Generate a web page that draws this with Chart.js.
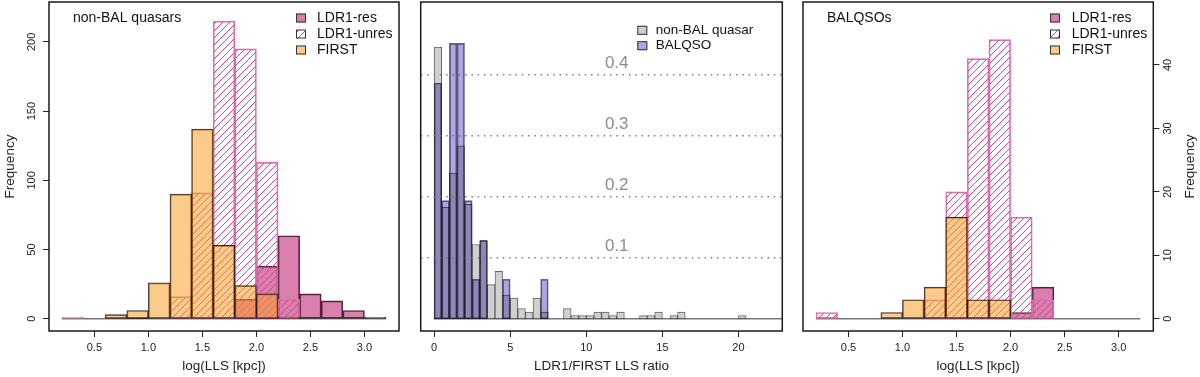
<!DOCTYPE html>
<html>
<head>
<meta charset="utf-8">
<title>LLS histograms</title>
<script src="https://cdn.jsdelivr.net/npm/chart.js"></script>
<style>
  body { margin: 0; background: #fff; }
  .panel { position: absolute; top: 0; }
</style>
</head>
<body>
<canvas id="nonBalChart" class="panel" width="410" height="377" style="left:0px"></canvas>
<canvas id="ratioChart" class="panel" width="384" height="377" style="left:410px"></canvas>
<canvas id="balChart" class="panel" width="406" height="377" style="left:794px"></canvas>
<script>
// log(LLS [kpc]) histogram breaks (left and right panels)
const llsBreaks = [0.2, 0.4, 0.6, 0.8, 1.0, 1.2, 1.4, 1.6, 1.8, 2.0, 2.2, 2.4, 2.6, 2.8, 3.0, 3.2];
const llsTicks = [0.5, 1.0, 1.5, 2.0, 2.5, 3.0];
const llsTickLabels = ['0.5', '1.0', '1.5', '2.0', '2.5', '3.0'];

// non-BAL quasars, counts per bin
const nonBalRes   = [0, 0, 0, 1, 0, 0, 0, 0, 14, 38, 60, 18, 13, 6, 1];
const nonBalUnres = [1, 0, 0, 0, 0, 16, 91, 215, 195, 113, 14, 0, 0, 0, 0];
const nonBalFirst = [0, 0, 3, 6, 26, 90, 137, 53, 24, 18, 1, 0, 0, 0, 0];
const nonBalFreqTicks = [0, 50, 100, 150, 200];

// BALQSOs, counts per bin
const balRes   = [0, 0, 0, 0, 0, 0, 0, 0, 0, 1, 5, 0, 0, 0, 0];
const balUnres = [1, 0, 0, 0, 0, 3, 20, 41, 44, 16, 3, 0, 0, 0, 0];
const balFirst = [0, 0, 0, 1, 3, 5, 16, 3, 3, 0, 0, 0, 0, 0, 0];
const balFreqTicks = [0, 10, 20, 30, 40];

// LDR1/FIRST LLS ratio, densities per 0.5-wide bin
const ratioBreaks = [0, 0.5, 1, 1.5, 2, 2.5, 3, 3.5, 4, 4.5, 5, 5.5, 6, 6.5, 7, 7.5, 8, 8.5, 9, 9.5, 10,
                     10.5, 11, 11.5, 12, 12.5, 13, 13.5, 14, 14.5, 15, 15.5, 16, 16.5, 17, 17.5, 18, 18.5,
                     19, 19.5, 20, 20.5];
const nonBalRatio = [0.446, 0.183, 0.239, 0.284, 0.188, 0.122, 0.128, 0.056, 0.078, 0.039, 0.034, 0.017,
                     0.011, 0.034, 0.011, 0, 0, 0.017, 0.0055, 0.0055, 0.0055, 0.011, 0.011, 0.0055, 0.011,
                     0, 0, 0.0055, 0.0055, 0.011, 0, 0.0055, 0.011, 0, 0, 0, 0, 0, 0, 0, 0.0055];
const balRatio    = [0.387, 0.194, 0.452, 0.452, 0.194, 0.065, 0.129, 0, 0, 0.065, 0, 0, 0, 0, 0.065,
                     0, 0, 0, 0, 0, 0, 0, 0, 0, 0, 0, 0, 0, 0, 0, 0, 0, 0, 0, 0, 0, 0, 0, 0, 0, 0];
const ratioTicks = [0, 5, 10, 15, 20];
const ratioTickLabels = ['0', '5', '10', '15', '20'];
const ratioLevels = [0.1, 0.2, 0.3, 0.4];
const ratioLevelLabels = ['0.1', '0.2', '0.3', '0.4'];
const ratioLevelLabelX = 12;

// axis limits (R style: data range + 4%)
const llsRange = [0.08, 3.32];
const ratioRange = [-0.88, 22.88];
const nonBalFreqRange = [-8.8, 228.8];
const balFreqRange = [-1.92, 49.92];
const ratioDensityRange = [-0.02, 0.52];

const FONT = '"Liberation Sans", Arial, Helvetica, sans-serif';
Chart.defaults.font.family = FONT;
Chart.defaults.color = '#222';
Chart.defaults.animation = false;

// colours
const resFill = 'rgba(180, 10, 100, 0.52)';
const firstFill = 'rgba(251, 160, 40, 0.55)';
const darkEdge = 'rgba(20, 12, 12, 0.85)';
const unresLine = 'rgb(214, 64, 148)';
const unresEdge = 'rgb(222, 110, 172)';

// diagonal hatching like R's density lines
function hatch(color) {
    const c = document.createElement('canvas');
    c.width = 7;
    c.height = 7;
    const g = c.getContext('2d');
    g.strokeStyle = color;
    g.lineWidth = 1;
    g.beginPath();
    g.moveTo(0, 7); g.lineTo(7, 0);
    g.moveTo(-1, 1); g.lineTo(1, -1);
    g.moveTo(6, 8); g.lineTo(8, 6);
    g.stroke();
    return g.createPattern(c, 'repeat');
}
const unresFill = hatch(unresLine);

// bars sit at the middle of each bin
function histData(breaks, values) {
    return values.map((y, i) => ({ x: (breaks[i] + breaks[i + 1]) / 2, y: y }));
}

function barSet(label, breaks, values, fill, edge, order, extra) {
    return Object.assign({
        type: 'bar',
        label: label,
        data: histData(breaks, values),
        backgroundColor: fill,
        borderColor: edge,
        borderWidth: 1,
        borderSkipped: false,
        barPercentage: 1,
        categoryPercentage: 1,
        grouped: false,
        order: order,
        legend: true
    }, extra || {});
}

function baseline(from, to) {
    return {
        type: 'line',
        data: [{ x: from, y: 0 }, { x: to, y: 0 }],
        borderColor: '#333',
        borderWidth: 1,
        pointRadius: 0,
        order: 10
    };
}

function fixedTicks(values) {
    return scale => { scale.ticks = values.map(v => ({ value: v })); };
}

function fixSize(prop, size) {
    return scale => {
        scale[prop] = size;
        scale.paddingLeft = scale.paddingRight = scale.paddingTop = scale.paddingBottom = 0;
    };
}

function xAxis(range, ticks, labels, title) {
    return {
        type: 'linear',
        min: range[0],
        max: range[1],
        offset: false,
        afterBuildTicks: fixedTicks(ticks),
        afterFit: fixSize('height', 46),
        grid: { offset: false, drawOnChartArea: false, tickLength: 6, color: '#222' },
        border: { display: false },
        ticks: { font: { size: 11 }, color: '#222', padding: 4.5, maxRotation: 0, autoSkip: false,
                 callback: (v, i) => labels[i] },
        title: { display: true, text: title, font: { size: 13.5 }, color: '#222',
                 padding: { top: 0, bottom: 2.2 } }
    };
}

function freqAxis(position, width, range, ticks, pad) {
    return {
        position: position,
        min: range[0],
        max: range[1],
        afterBuildTicks: fixedTicks(ticks),
        afterFit: fixSize('width', width),
        grid: { drawOnChartArea: false, tickLength: 6, color: '#222' },
        border: { display: false },
        ticks: { font: { size: 11 }, color: '#222', minRotation: 90, maxRotation: 90,
                 crossAlign: 'center', padding: pad, autoSkip: false }
    };
}

// frame, panel title and legend drawn inside the plot box
function drawFrame(chart) {
    const { ctx, chartArea: a } = chart;
    ctx.save();
    ctx.strokeStyle = '#1a1a1a';
    ctx.lineWidth = 1.5;
    ctx.strokeRect(a.left, a.top, a.right - a.left, a.bottom - a.top);
    ctx.restore();
}

function drawLegend(chart, boxX, textX, rowY, step, size) {
    const ctx = chart.ctx;
    ctx.save();
    ctx.font = size + 'px ' + FONT;
    ctx.textBaseline = 'middle';
    ctx.textAlign = 'left';
    let row = 0;
    chart.data.datasets.forEach(ds => {
        if (!ds.legend) return;
        const y = rowY + row * step;
        ctx.fillStyle = '#fff';
        ctx.fillRect(boxX, y - 4.5, 10, 9);
        ctx.fillStyle = ds.backgroundColor;
        ctx.fillRect(boxX, y - 4.5, 10, 9);
        ctx.strokeStyle = '#333';
        ctx.lineWidth = 1;
        ctx.strokeRect(boxX + 0.5, y - 4, 9, 8);
        ctx.fillStyle = '#111';
        ctx.fillText(ds.label, textX, y);
        row++;
    });
    ctx.restore();
}

function drawTitle(chart, text) {
    const { ctx, chartArea: a } = chart;
    ctx.save();
    ctx.font = '14px ' + FONT;
    ctx.fillStyle = '#111';
    ctx.textBaseline = 'middle';
    ctx.textAlign = 'left';
    ctx.fillText(text, a.left + 24, a.top + 16);
    ctx.restore();
}

// BALQSO bars are multiplied onto the grey ones
const multiplyPlugin = {
    id: 'multiply',
    beforeDatasetDraw(chart, args) {
        if (chart.data.datasets[args.index].multiply) {
            chart.ctx.save();
            chart.ctx.globalCompositeOperation = 'multiply';
        }
    },
    afterDatasetDraw(chart, args) {
        if (chart.data.datasets[args.index].multiply) chart.ctx.restore();
    }
};

// Left panel: non-BAL quasars
new Chart(document.getElementById('nonBalChart'), {
    type: 'bar',
    data: {
        datasets: [
            barSet('LDR1-res', llsBreaks, nonBalRes, resFill, darkEdge, 3),
            barSet('LDR1-unres', llsBreaks, nonBalUnres, unresFill, unresEdge, 2),
            barSet('FIRST', llsBreaks, nonBalFirst, firstFill, darkEdge, 1),
            baseline(llsBreaks[0], llsBreaks[llsBreaks.length - 1])
        ]
    },
    options: {
        responsive: false,
        events: [],
        layout: { autoPadding: false, padding: { left: 0, right: 11, top: 2, bottom: 0 } },
        scales: {
            x: xAxis(llsRange, llsTicks, llsTickLabels, 'log(LLS [kpc])'),
            y: Object.assign(freqAxis('left', 49, nonBalFreqRange, nonBalFreqTicks, 1.5), {
                title: { display: true, text: 'Frequency', font: { size: 13.5 }, color: '#222',
                         padding: { top: 1.9, bottom: 0 } }
            })
        },
        plugins: { legend: { display: false }, tooltip: { enabled: false } }
    },
    plugins: [{
        id: 'decor',
        afterDatasetsDraw(chart) {
            const a = chart.chartArea;
            drawFrame(chart);
            drawTitle(chart, 'non-BAL quasars');
            drawLegend(chart, a.right - 103, a.right - 82, a.top + 16, 16, 14);
        }
    }]
});

// Middle panel: LDR1/FIRST LLS ratio
new Chart(document.getElementById('ratioChart'), {
    type: 'bar',
    data: {
        datasets: [
            barSet('non-BAL quasar', ratioBreaks, nonBalRatio, 'rgb(208, 208, 208)', 'rgba(50, 50, 50, 0.75)', 2),
            barSet('BALQSO', ratioBreaks, balRatio, 'rgb(176, 164, 228)', 'rgba(50, 40, 70, 0.7)', 1,
                   { multiply: true }),
            baseline(ratioBreaks[0], ratioRange[1])
        ]
    },
    options: {
        responsive: false,
        events: [],
        layout: { autoPadding: false, padding: { left: 10.7, right: 11.7, top: 2, bottom: 0 } },
        scales: {
            x: xAxis(ratioRange, ratioTicks, ratioTickLabels, 'LDR1/FIRST LLS ratio'),
            y: {
                min: ratioDensityRange[0],
                max: ratioDensityRange[1],
                afterBuildTicks: fixedTicks(ratioLevels),
                afterFit: fixSize('width', 0),
                grid: { drawOnChartArea: true, drawTicks: false, color: '#777', lineWidth: 1.4, z: 1 },
                border: { display: false, dash: [1.4, 4.9] },
                ticks: { display: false }
            }
        },
        plugins: { legend: { display: false }, tooltip: { enabled: false } }
    },
    plugins: [multiplyPlugin, {
        id: 'decor',
        afterDatasetsDraw(chart) {
            const a = chart.chartArea;
            const { x, y } = chart.scales;
            const ctx = chart.ctx;
            drawFrame(chart);
            ctx.save();
            ctx.font = '17px ' + FONT;
            ctx.fillStyle = '#8c8c8c';
            ctx.textAlign = 'center';
            ctx.textBaseline = 'middle';
            ratioLevels.forEach((v, i) => {
                ctx.fillText(ratioLevelLabels[i], x.getPixelForValue(ratioLevelLabelX), y.getPixelForValue(v) - 12);
            });
            ctx.restore();
            drawLegend(chart, a.right - 145, a.right - 126.6, a.top + 28.3, 15.4, 13.5);
        }
    }]
});

// Right panel: BALQSOs
new Chart(document.getElementById('balChart'), {
    type: 'bar',
    data: {
        datasets: [
            barSet('LDR1-res', llsBreaks, balRes, resFill, darkEdge, 3),
            barSet('LDR1-unres', llsBreaks, balUnres, unresFill, unresEdge, 2),
            barSet('FIRST', llsBreaks, balFirst, firstFill, darkEdge, 1),
            baseline(llsBreaks[0], llsBreaks[llsBreaks.length - 1])
        ]
    },
    options: {
        responsive: false,
        events: [],
        layout: { autoPadding: false, padding: { left: 9, right: 0, top: 2, bottom: 0 } },
        scales: {
            x: xAxis(llsRange, llsTicks, llsTickLabels, 'log(LLS [kpc])'),
            y: freqAxis('right', 46.7, balFreqRange, balFreqTicks, 2.6)
        },
        plugins: { legend: { display: false }, tooltip: { enabled: false } }
    },
    plugins: [{
        id: 'decor',
        afterDatasetsDraw(chart) {
            const a = chart.chartArea;
            const ctx = chart.ctx;
            drawFrame(chart);
            drawTitle(chart, 'BALQSOs');
            drawLegend(chart, a.right - 103.3, a.right - 81.6, a.top + 16, 16, 14);
            // right-hand axis title, reading upwards as in R
            ctx.save();
            ctx.font = '13.5px ' + FONT;
            ctx.fillStyle = '#222';
            ctx.textAlign = 'center';
            ctx.textBaseline = 'middle';
            ctx.translate(chart.scales.y.right - 10, (a.top + a.bottom) / 2);
            ctx.rotate(-Math.PI / 2);
            ctx.fillText('Frequency', 0, 0);
            ctx.restore();
        }
    }]
});
</script>
</body>
</html>
